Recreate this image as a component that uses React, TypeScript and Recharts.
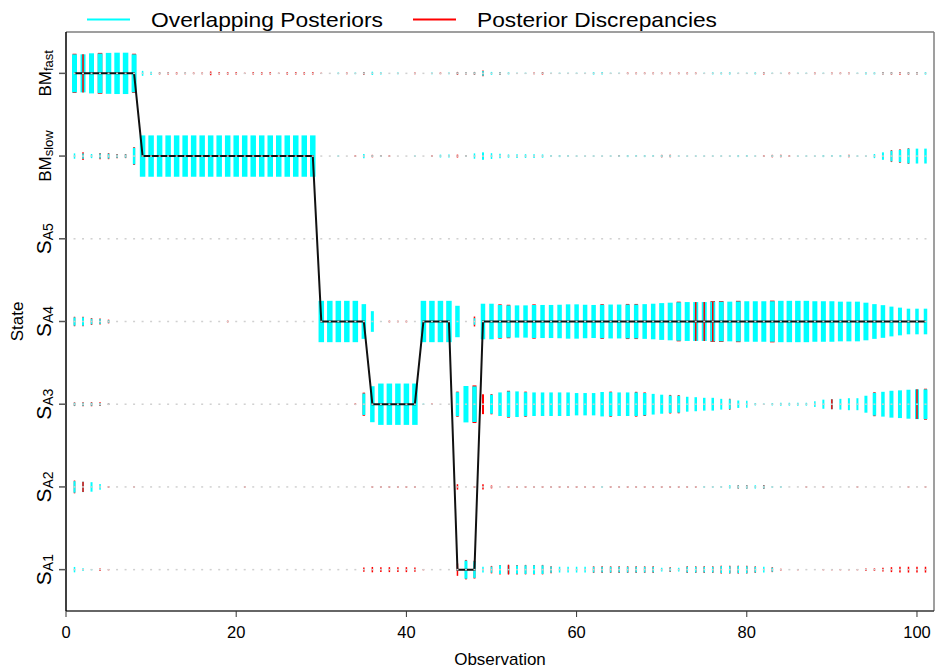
import React from 'react';
import {
  ComposedChart,
  Scatter,
  Line,
  XAxis,
  YAxis,
  ErrorBar,
  ReferenceLine,
  Legend,
  Label,
} from 'recharts';

const FONT = '"Liberation Sans", Arial, Helvetica, sans-serif';
const CYAN = '#00ffff';
const RED = '#ff0000';

// Hidden states on the vertical axis, bottom to top
const stateLevels = [1, 2, 3, 4, 5, 6, 7];
const stateMain = ['S', 'S', 'S', 'S', 'S', 'BM', 'BM'];
const stateSub = ['A1', 'A2', 'A3', 'A4', 'A5', 'slow', 'fast'];
const xTicks = [0, 20, 40, 60, 80, 100];

const legendItems = [
  { label: 'Overlapping Posteriors', color: CYAN, width: 232 },
  { label: 'Posterior Discrepancies', color: RED, width: 240 },
];

// Decoded state sequence, observations 1..101
const pathStates = [
  7, 7, 7, 7, 7, 7, 7, 7, 6, 6,
  6, 6, 6, 6, 6, 6, 6, 6, 6, 6,
  6, 6, 6, 6, 6, 6, 6, 6, 6, 4,
  4, 4, 4, 4, 4, 3, 3, 3, 3, 3,
  3, 4, 4, 4, 4, 1, 1, 1, 4, 4,
  4, 4, 4, 4, 4, 4, 4, 4, 4, 4,
  4, 4, 4, 4, 4, 4, 4, 4, 4, 4,
  4, 4, 4, 4, 4, 4, 4, 4, 4, 4,
  4, 4, 4, 4, 4, 4, 4, 4, 4, 4,
  4, 4, 4, 4, 4, 4, 4, 4, 4, 4,
  4,
];

// Overlapping posterior probability per observation (1..101)
const cyanBMfast = [
  0.92, 0.92, 0.97, 0.96, 0.99, 1, 1, 0.92, 0.12, 0.08,
  0.03, 0.03, 0, 0.03, 0, 0, 0, 0, 0, 0,
  0, 0, 0, 0, 0, 0, 0, 0, 0, 0,
  0, 0.04, 0, 0.04, 0.04, 0.08, 0.05, 0, 0.04, 0,
  0, 0, 0.04, 0, 0.04, 0.04, 0.04, 0.05, 0.11, 0.07,
  0.05, 0.05, 0.03, 0.03, 0, 0.03, 0.03, 0.03, 0.03, 0.03,
  0.03, 0.06, 0.06, 0.03, 0.03, 0, 0, 0, 0, 0,
  0, 0, 0, 0, 0.03, 0.05, 0.05, 0.05, 0.03, 0.03,
  0.05, 0.03, 0.03, 0.03, 0, 0.03, 0.03, 0, 0.03, 0,
  0, 0, 0.03, 0.05, 0.05, 0.04, 0.04, 0.03, 0.04, 0.04,
  0.06,
];
const cyanBMslow = [
  0.13, 0.13, 0.1, 0.12, 0.12, 0.08, 0.08, 0.4, 1, 1,
  1, 1, 1, 1, 1, 1, 1, 1, 1, 1,
  1, 1, 1, 1, 1, 1, 1, 1, 1, 0,
  0, 0.03, 0, 0, 0.1, 0.03, 0.03, 0, 0, 0,
  0.03, 0, 0, 0.07, 0.07, 0, 0.03, 0.13, 0.18, 0.14,
  0.11, 0.08, 0.09, 0.09, 0.09, 0.08, 0.05, 0.05, 0.05, 0.03,
  0.03, 0.03, 0.03, 0.03, 0.04, 0.05, 0.05, 0.05, 0.05, 0.05,
  0.05, 0.03, 0.03, 0.03, 0.03, 0.03, 0.03, 0.03, 0.05, 0.05,
  0.03, 0, 0.04, 0.04, 0, 0.03, 0.03, 0.03, 0.05, 0.05,
  0.05, 0.05, 0.03, 0.03, 0.1, 0.18, 0.26, 0.3, 0.36, 0.36,
  0.36,
];
const cyanSA4 = [
  0.2, 0.2, 0.14, 0.12, 0.06, 0, 0, 0, 0, 0,
  0, 0, 0, 0, 0, 0, 0, 0, 0, 0,
  0, 0, 0, 0, 0, 0, 0, 0, 0, 1,
  1, 1, 1, 1, 0.84, 0.5, 0.03, 0, 0, 0,
  0, 1, 1, 1, 1, 0.76, 0, 0.16, 0.86, 0.86,
  0.8, 0.78, 0.78, 0.78, 0.8, 0.8, 0.8, 0.81, 0.83, 0.83,
  0.81, 0.8, 0.81, 0.82, 0.82, 0.82, 0.82, 0.84, 0.86, 0.89,
  0.91, 0.93, 0.94, 0.94, 0.94, 0.96, 0.96, 0.96, 0.97, 0.98,
  0.98, 0.98, 0.98, 1, 1, 1, 1, 0.98, 0.98, 0.98,
  0.96, 0.96, 0.96, 0.91, 0.84, 0.79, 0.72, 0.67, 0.62, 0.62,
  0.62,
];
const cyanSA3 = [
  0.07, 0.07, 0.07, 0.06, 0.03, 0, 0, 0, 0, 0,
  0, 0, 0, 0, 0, 0, 0, 0, 0, 0,
  0, 0, 0, 0, 0, 0, 0, 0, 0, 0,
  0, 0, 0, 0, 0.52, 0.87, 1, 1, 1, 1,
  1, 0.03, 0, 0, 0, 0.58, 0.88, 0.86, 0, 0.46,
  0.57, 0.62, 0.62, 0.58, 0.57, 0.57, 0.57, 0.57, 0.57, 0.54,
  0.54, 0.54, 0.59, 0.58, 0.57, 0.57, 0.57, 0.54, 0.5, 0.46,
  0.42, 0.41, 0.36, 0.34, 0.31, 0.31, 0.26, 0.24, 0.18, 0.17,
  0.06, 0.03, 0.06, 0.07, 0.07, 0.07, 0.07, 0.14, 0.22, 0.24,
  0.26, 0.29, 0.29, 0.41, 0.55, 0.6, 0.65, 0.67, 0.7, 0.72,
  0.72,
];
// [observation, probability] for the sparse low states
const cyanSA2: [number, number][] = [
  [1, 0.28], [2, 0.25], [3, 0.23], [4, 0.14], [63, 0.04], [75, 0.04], [76, 0.04],
  [77, 0.04], [78, 0.08], [79, 0.07], [80, 0.07], [81, 0.08], [82, 0.07], [83, 0.04], [84, 0.04],
];
const cyanSA1: [number, number][] = [
  [1, 0.13], [2, 0.07], [3, 0.03], [47, 0.44], [48, 0.4], [49, 0.14], [50, 0.15],
  [51, 0.21], [52, 0.2], [53, 0.2], [54, 0.21], [55, 0.21], [56, 0.21], [57, 0.15],
  [58, 0.14], [59, 0.14], [60, 0.14], [61, 0.14], [62, 0.14], [63, 0.14], [64, 0.14],
  [65, 0.14], [66, 0.14], [67, 0.14], [68, 0.14], [69, 0.14], [70, 0.09], [71, 0.09],
  [72, 0.09], [73, 0.14], [74, 0.14], [75, 0.14], [76, 0.14], [77, 0.17], [78, 0.17],
  [79, 0.17], [80, 0.17], [81, 0.14], [82, 0.14], [83, 0.1],
];

// Discrepant posterior probability, [observation, probability]
const redBMfast: [number, number][] = [
  [1, 0.95], [4, 0.99], [8, 0.95], [11, 0.05], [12, 0.05], [13, 0.05], [14, 0.04],
  [15, 0.04], [16, 0.04], [17, 0.09], [18, 0.06], [19, 0.06], [20, 0.06], [21, 0.03],
  [22, 0.06], [23, 0.06], [24, 0.06], [25, 0.03], [26, 0.06], [27, 0.06], [28, 0.06],
  [29, 0.06], [30, 0.03], [33, 0.04], [35, 0.07], [41, 0.04], [44, 0.04], [46, 0.07],
  [47, 0.05], [48, 0.07], [49, 0.14], [51, 0.07], [55, 0.04], [56, 0.06], [66, 0.04],
  [67, 0.04], [68, 0.04], [69, 0.04], [70, 0.04], [71, 0.04], [72, 0.04], [73, 0.04],
  [74, 0.04], [82, 0.05], [85, 0.04], [88, 0.04], [90, 0.04], [91, 0.04], [92, 0.04],
  [96, 0.06], [97, 0.06], [98, 0.07], [99, 0.06], [100, 0.06],
];
const redBMslow: [number, number][] = [
  [2, 0.19], [4, 0.15], [5, 0.15], [6, 0.1], [7, 0.1], [8, 0.43], [34, 0.04], [36, 0.06],
  [37, 0.05], [38, 0.04], [43, 0.04], [46, 0.07], [47, 0.04], [65, 0.05], [70, 0.06],
  [71, 0.06], [82, 0.04], [83, 0.06], [84, 0.06], [85, 0.04], [92, 0.06], [97, 0.29],
  [98, 0.33], [99, 0.38],
];
const redSA4: [number, number][] = [
  [1, 0.23], [2, 0.23], [3, 0.17], [4, 0.15], [5, 0.09], [19, 0.04], [38, 0.04],
  [39, 0.04], [40, 0.04], [48, 0.24], [51, 0.83], [52, 0.81], [55, 0.83], [63, 0.84],
  [66, 0.85], [67, 0.85], [72, 0.96], [76, 0.99], [77, 0.99], [79, 1], [83, 1.01],
];
const redSA3: [number, number][] = [
  [1, 0.09], [2, 0.1], [3, 0.1], [4, 0.09], [5, 0.04], [34, 0.04], [35, 0.56], [43, 0.04],
  [46, 0.61], [48, 0.91], [49, 0.48], [50, 0.49], [52, 0.65], [54, 0.61], [64, 0.61],
  [67, 0.6], [68, 0.57], [71, 0.45], [72, 0.44], [78, 0.27], [95, 0.58], [101, 0.75],
];
const redSA2: [number, number][] = [
  [1, 0.31], [5, 0.04], [8, 0.03], [21, 0.03], [36, 0.04], [37, 0.04], [38, 0.04],
  [39, 0.04], [40, 0.04], [41, 0.04], [46, 0.13], [48, 0.04], [49, 0.13], [50, 0.07],
  [52, 0.04], [53, 0.04], [54, 0.04], [55, 0.04], [56, 0.04], [57, 0.04], [58, 0.04],
  [59, 0.04], [60, 0.04], [61, 0.04], [62, 0.04], [64, 0.04], [65, 0.04], [66, 0.04],
  [67, 0.04], [68, 0.04], [69, 0.04], [70, 0.04], [71, 0.04], [72, 0.04], [73, 0.04],
  [74, 0.04], [79, 0.08], [80, 0.08], [82, 0.09], [87, 0.03], [89, 0.03], [93, 0.03],
  [99, 0.03], [101, 0.03],
];
const redSA1: [number, number][] = [
  [4, 0.06], [5, 0.03], [35, 0.1], [36, 0.13], [37, 0.12], [38, 0.12], [39, 0.12],
  [40, 0.12], [41, 0.1], [42, 0.03], [46, 0.3], [47, 0.47], [48, 0.43], [50, 0.18],
  [51, 0.23], [53, 0.23], [54, 0.23], [55, 0.23], [56, 0.23], [57, 0.17], [62, 0.16],
  [63, 0.16], [64, 0.16], [65, 0.16], [66, 0.16], [67, 0.16], [68, 0.16], [69, 0.16],
  [71, 0.11], [73, 0.16], [74, 0.16], [75, 0.16], [76, 0.16], [77, 0.19], [78, 0.19],
  [79, 0.19], [80, 0.19], [81, 0.16], [83, 0.12], [84, 0.04], [86, 0.03], [89, 0.03],
  [90, 0.03], [91, 0.03], [92, 0.03], [93, 0.03], [94, 0.06], [95, 0.06], [96, 0.09],
  [97, 0.12], [98, 0.14], [99, 0.14], [100, 0.14], [101, 0.14],
];

// Discrepancies showing along one side of the overlapping bar, [state, observation, probability]
const redEdgeLeft: [number, number, number][] = [[7, 2, 0.93], [4, 74, 0.94], [4, 76, 0.96]];
const redEdgeRight: [number, number, number][] = [[4, 75, 0.94], [3, 90, 0.24], [3, 100, 0.72], [2, 2, 0.25]];
const redEdgeMid: [number, number, number][] = [[1, 52, 0.24]];

// Half bar length (in state units) for a probability of 1
const HALF = 0.25;
const EDGE_WIDTH = 1.5;
const MIN_WIDTH = 1.5;

type Mark = { obs: number; state: number; p: number; err: number };

const mark = (obs: number, state: number, p: number): Mark => ({ obs, state, p, err: p * HALF });
const fromDense = (state: number, probs: number[]): Mark[] =>
  probs.map((p, i) => mark(i + 1, state, p)).filter((d) => d.p > 0);
const fromPairs = (state: number, pairs: [number, number][]): Mark[] =>
  pairs.map(([obs, p]) => mark(obs, state, p));

const cyanMarks: Mark[] = [
  ...fromDense(7, cyanBMfast),
  ...fromDense(6, cyanBMslow),
  ...fromDense(4, cyanSA4),
  ...fromDense(3, cyanSA3),
  ...fromPairs(2, cyanSA2),
  ...fromPairs(1, cyanSA1),
];
const redMarks: Mark[] = [
  ...fromPairs(7, redBMfast),
  ...fromPairs(6, redBMslow),
  ...fromPairs(4, redSA4),
  ...fromPairs(3, redSA3),
  ...fromPairs(2, redSA2),
  ...fromPairs(1, redSA1),
];

// Line thickness grows with the probability; group marks that share a thickness
const thickness = (p: number) => Math.max(MIN_WIDTH, Math.round((1 + 4.3 * p) * 2) / 2);
// Discrepancy strokes sit a touch inside the overlap strokes so only their ends show
const redThickness = (p: number) => Math.max(MIN_WIDTH, thickness(p) - 1);
const byThickness = (list: Mark[], widthOf: (p: number) => number): [number, Mark[]][] => {
  const groups = new Map<number, Mark[]>();
  list.forEach((m) => {
    const w = widthOf(m.p);
    if (!groups.has(w)) groups.set(w, []);
    groups.get(w)!.push(m);
  });
  return [...groups.entries()].sort((a, b) => b[0] - a[0]);
};

const edges = [
  ...redEdgeLeft.map(([state, obs, p]) => ({ m: mark(obs, state, p), dx: -(thickness(p) - EDGE_WIDTH) / 2 })),
  ...redEdgeRight.map(([state, obs, p]) => ({ m: mark(obs, state, p), dx: (thickness(p) - EDGE_WIDTH) / 2 })),
  ...redEdgeMid.map(([state, obs, p]) => ({ m: mark(obs, state, p), dx: 0 })),
];
const edgeCss = edges
  .map((e, k) => `.edge-${k} .recharts-errorBar { transform: translateX(${e.dx}px); }`)
  .join('\n');

const pathData = pathStates.map((state, i) => ({ obs: i + 1, state }));
const baseDots = stateLevels.flatMap((state) => pathStates.map((_, i) => ({ obs: i + 1, state })));

const Hidden = () => <g />;
const GreyDot = (props: any) => (
  <rect x={props.cx - 1} y={props.cy - 0.75} width={2} height={1.5} fill="#d0d0d0" />
);

const StateTick = (props: any) => {
  const { x, y, payload } = props;
  const i = stateLevels.indexOf(payload.value);
  const isBM = stateMain[i] === 'BM';
  return (
    <text
      transform={`translate(${x - 6},${y}) rotate(-90)`}
      textAnchor="middle"
      fontFamily={FONT}
      fill="#000"
    >
      <tspan fontSize={isBM ? 17 : 21}>{stateMain[i]}</tspan>
      <tspan fontSize={isBM ? 13 : 14} dy={2}>
        {stateSub[i]}
      </tspan>
    </text>
  );
};

const YTitle = (props: any) => {
  const vb = props.viewBox;
  const cy = vb.y + vb.height / 2;
  return (
    <text
      transform={`translate(17,${cy}) rotate(-90)`}
      textAnchor="middle"
      dominantBaseline="central"
      fontFamily={FONT}
      fontSize={17}
      fill="#000"
    >
      State
    </text>
  );
};

const XTitle = (props: any) => {
  const vb = props.viewBox;
  return (
    <text x={vb.x + vb.width / 2} y={665} textAnchor="middle" fontFamily={FONT} fontSize={17} fill="#000">
      Observation
    </text>
  );
};

const renderLegend = () => {
  let x = 87;
  const parts: React.ReactNode[] = [];
  legendItems.forEach((item, k) => {
    parts.push(
      <line key={`l${k}`} x1={x} x2={x + 43} y1={19.5} y2={19.5} stroke={item.color} strokeWidth={2} />,
      <text
        key={`t${k}`}
        x={x + 64}
        y={26.5}
        fontFamily={FONT}
        fontSize={21}
        fill="#000"
        textLength={item.width}
        lengthAdjust="spacingAndGlyphs"
      >
        {item.label}
      </text>
    );
    x += 64 + item.width + 30;
  });
  return (
    <svg width={936} height={32} style={{ display: 'block' }}>
      {parts}
    </svg>
  );
};

const markSeries = (list: Mark[], color: string, prefix: string, widthOf: (p: number) => number) =>
  byThickness(list, widthOf).map(([w, data]) => (
    <Scatter key={`${prefix}${w}`} data={data} shape={Hidden} isAnimationActive={false} legendType="none">
      <ErrorBar dataKey="err" direction="y" width={0} stroke={color} strokeWidth={w} isAnimationActive={false} />
    </Scatter>
  ));

export default function App() {
  return (
    <div style={{ position: 'absolute', left: 0, top: 0, width: 936, height: 670, background: '#fff' }}>
      <style>{edgeCss}</style>
      <ComposedChart width={936} height={670} margin={{ top: 32, right: 2, bottom: 0, left: 6 }}>
        <XAxis
          type="number"
          dataKey="obs"
          domain={[0, 102]}
          ticks={xTicks}
          allowDataOverflow
          height={59}
          tickSize={6}
          tickMargin={9}
          axisLine={{ stroke: '#333', strokeWidth: 1.5 }}
          tickLine={{ stroke: '#333' }}
          tick={{ fontSize: 16.5, fill: '#000', fontFamily: FONT }}
        >
          <Label content={XTitle} />
        </XAxis>
        <YAxis
          type="number"
          dataKey="state"
          domain={[0.5, 7.5]}
          ticks={stateLevels}
          allowDataOverflow
          width={60}
          tickSize={7}
          axisLine={{ stroke: '#000', strokeWidth: 1.5 }}
          tickLine={{ stroke: '#555', strokeWidth: 1.5 }}
          tick={StateTick}
        >
          <Label content={YTitle} />
        </YAxis>
        <ReferenceLine y={7.5} stroke="#7f7f7f" strokeWidth={1.5} />
        <ReferenceLine x={102} stroke="#7f7f7f" strokeWidth={1.5} />
        <Scatter data={baseDots} shape={GreyDot} isAnimationActive={false} legendType="none" />
        {markSeries(redMarks, RED, 'r', redThickness)}
        {markSeries(cyanMarks, CYAN, 'c', thickness)}
        {edges.map((e, k) => (
          <Scatter
            key={`e${k}`}
            className={`edge-${k}`}
            data={[e.m]}
            shape={Hidden}
            isAnimationActive={false}
            legendType="none"
          >
            <ErrorBar dataKey="err" direction="y" width={0} stroke={RED} strokeWidth={EDGE_WIDTH} isAnimationActive={false} />
          </Scatter>
        ))}
        <Line
          data={pathData}
          dataKey="state"
          type="linear"
          stroke="#111"
          strokeWidth={2}
          dot={false}
          activeDot={false}
          isAnimationActive={false}
          legendType="none"
        />
        <Legend
          verticalAlign="middle"
          align="center"
          content={renderLegend}
          wrapperStyle={{ top: 0, left: 0, width: 936, height: 32 }}
        />
      </ComposedChart>
    </div>
  );
}
